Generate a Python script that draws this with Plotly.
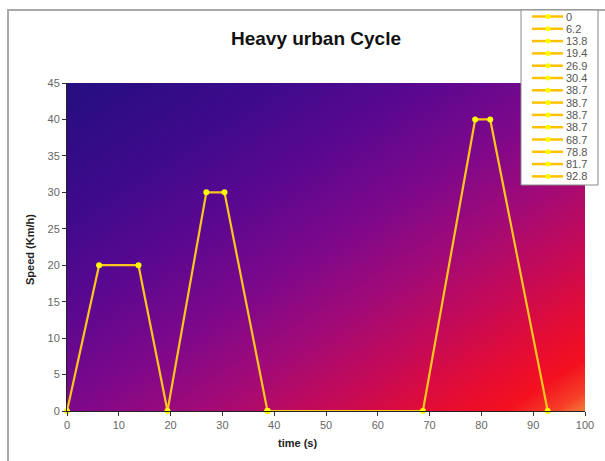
import numpy as np
import plotly.graph_objects as go

# ---- data ----
time_s = [0, 6.2, 13.8, 19.4, 26.9, 30.4, 38.7, 38.7, 38.7, 38.7, 68.7, 78.8, 81.7, 92.8]
speed_kmh = [0, 20, 20, 0, 30, 30, 0, 0, 0, 0, 0, 40, 40, 0]
legend_labels = ["0", "6.2", "13.8", "19.4", "26.9", "30.4", "38.7", "38.7",
                 "38.7", "38.7", "68.7", "78.8", "81.7", "92.8"]
x_ticks = list(range(0, 101, 10))
y_ticks = list(range(0, 46, 5))

# ---- layout geometry (pixels) ----
W, H = 605, 461
L, R, T, B = 67, 20, 83, 50
PW, PH = W - L - R, H - T - B


def px(xp):
    return (xp - L) / PW


def py(yp):
    return (H - B - yp) / PH


# ---- background gradient (style) ----
gx = np.linspace(0, 100, 60)
gy = np.linspace(0, 45, 40)
GX, GY = np.meshgrid(gx, gy)
Z = 0.5 * (GX / 100) + 0.5 * (1 - GY / 45)
colorscale = [
    [0.0, "#250e80"],
    [0.2, "#3e0a8c"],
    [0.35, "#5a0890"],
    [0.5, "#7e088a"],
    [0.62, "#a00a78"],
    [0.74, "#c40a58"],
    [0.85, "#e40c34"],
    [0.92, "#f4101f"],
    [0.97, "#f54028"],
    [1.0, "#f5803a"],
]

fig = go.Figure()
fig.add_trace(go.Heatmap(x=gx, y=gy, z=Z, colorscale=colorscale, zsmooth="best",
                         showscale=False, hoverinfo="skip"))

fig.add_trace(go.Scatter(
    x=time_s, y=speed_kmh, mode="lines+markers",
    line=dict(color="#fac61e", width=2.2),
    marker=dict(color="#ffff00", size=6, symbol="circle"),
    cliponaxis=False, showlegend=False))

shapes = []
annotations = []

# chart-area border
shapes.append(dict(type="rect", xref="paper", yref="paper",
                   x0=px(8), x1=px(640), y0=py(10), y1=py(500),
                   line=dict(color="#aaaaaa", width=2), fillcolor="rgba(0,0,0,0)", layer="below"))

# custom legend box
lx0, lx1, ly0, ly1 = 521, 598, 10, 185
shapes.append(dict(type="rect", xref="paper", yref="paper",
                   x0=px(lx0), x1=px(lx1), y0=py(ly0), y1=py(ly1),
                   line=dict(color="#888888", width=1), fillcolor="white", layer="above"))
row0, step = 16.5, 12.3
for i, lab in enumerate(legend_labels):
    yy = row0 + i * step
    shapes.append(dict(type="line", xref="paper", yref="paper",
                       x0=px(532), x1=px(563), y0=py(yy), y1=py(yy),
                       line=dict(color="#ffc000", width=2.5), layer="above"))
    shapes.append(dict(type="circle", xref="paper", yref="paper",
                       x0=px(545.5), x1=px(550.5), y0=py(yy - 2.5), y1=py(yy + 2.5),
                       line=dict(color="#ffff00", width=0), fillcolor="#ffff00", layer="above"))
    annotations.append(dict(text=lab, xref="paper", yref="paper", x=px(564), y=py(yy),
                            xanchor="left", yanchor="middle", showarrow=False,
                            font=dict(family="Liberation Sans, Arial", size=11, color="#555555")))

# title and axis titles
annotations.append(dict(text="<b>Heavy urban Cycle</b>", xref="paper", yref="paper",
                        x=px(316), y=py(38), xanchor="center", yanchor="middle", showarrow=False,
                        font=dict(family="Liberation Sans, Arial", size=19, color="#111111")))
annotations.append(dict(text="<b>time (s)</b>", xref="paper", yref="paper",
                        x=px(297), y=py(443), xanchor="center", yanchor="middle", showarrow=False,
                        font=dict(family="Liberation Sans, Arial", size=11, color="#222222")))
annotations.append(dict(text="<b>Speed (Km/h)</b>", xref="paper", yref="paper",
                        x=px(30), y=py(250), xanchor="center", yanchor="middle", showarrow=False,
                        textangle=-90,
                        font=dict(family="Liberation Sans, Arial", size=11, color="#222222")))

fig.update_layout(
    width=W, height=H,
    margin=dict(l=L, r=R, t=T, b=B),
    paper_bgcolor="white", plot_bgcolor="white",
    shapes=shapes, annotations=annotations,
    xaxis=dict(range=[0, 100], tickvals=x_ticks, ticks="outside", ticklen=4,
               tickcolor="#333333", showline=True, linecolor="#222222", linewidth=1,
               showgrid=False, zeroline=False,
               tickfont=dict(family="Liberation Sans, Arial", size=11, color="#666666")),
    yaxis=dict(range=[0, 45], tickvals=y_ticks, ticks="outside", ticklen=4,
               tickcolor="#333333", showline=True, linecolor="#222222", linewidth=1,
               showgrid=False, zeroline=False,
               tickfont=dict(family="Liberation Sans, Arial", size=11, color="#666666")),
    showlegend=False,
)

fig.write_html("out.html")
